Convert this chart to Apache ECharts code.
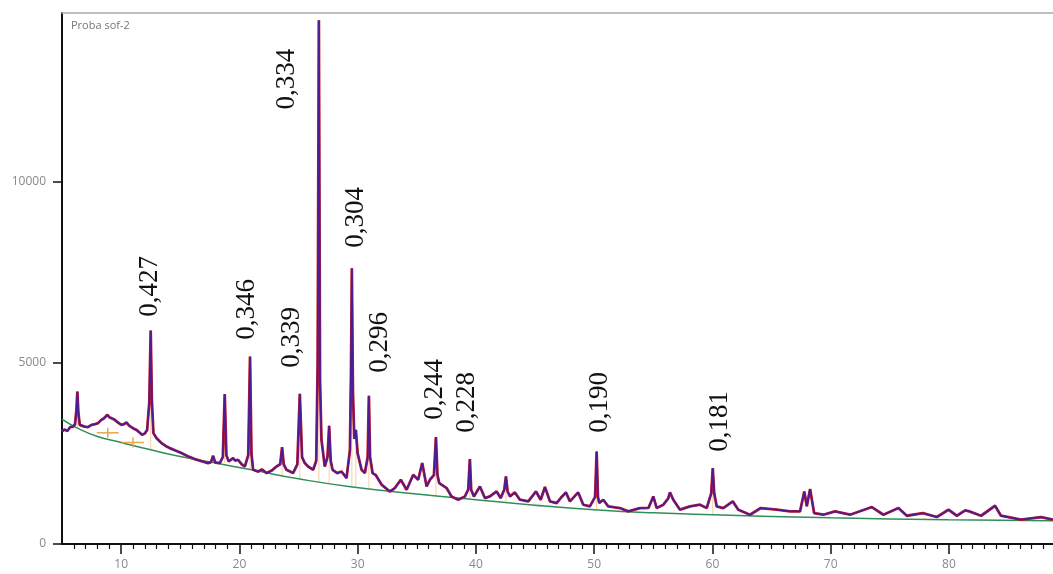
<!doctype html>
<html>
<head>
<meta charset="utf-8">
<title>Proba sof-2</title>
<style>
    html, body { margin: 0; padding: 0; background: #fff; }
    #main { width: 1053px; height: 574px; }
</style>
</head>
<body>
<div id="main"></div>
<script src="https://cdn.jsdelivr.net/npm/echarts@6/dist/echarts.min.js"></script>
<script>
// 2theta (deg) / intensity
var observed = [
    [5.0, 3105], [5.2, 3160], [5.45, 3120], [5.7, 3230], [5.93, 3243], [6.1, 3300], [6.22, 3700], [6.3, 4209],
    [6.38, 3650], [6.5, 3290], [6.64, 3263], [6.9, 3240], [7.2, 3227], [7.5, 3290], [7.8, 3310], [8.05, 3337],
    [8.3, 3420], [8.55, 3470], [8.84, 3566], [9.0, 3500], [9.2, 3470], [9.46, 3428], [9.7, 3360], [10.03, 3290],
    [10.25, 3310], [10.45, 3354], [10.7, 3260], [11.0, 3199], [11.3, 3150], [11.55, 3080], [11.77, 3014],
    [12.0, 3050], [12.2, 3150], [12.38, 3900], [12.5, 5891], [12.6, 3950], [12.73, 3061], [13.0, 2920],
    [13.41, 2786], [13.8, 2700], [14.11, 2648], [14.6, 2580], [15.1, 2510], [15.6, 2430], [16.23, 2344],
    [16.8, 2290], [17.35, 2234], [17.6, 2260], [17.78, 2435], [17.95, 2250], [18.34, 2234], [18.6, 2400],
    [18.76, 4137], [18.9, 2450], [19.1, 2278], [19.3, 2330], [19.47, 2372], [19.65, 2300], [19.89, 2325],
    [20.2, 2200], [20.46, 2140], [20.75, 2450], [20.9, 5174], [21.02, 2500], [21.16, 2049], [21.6, 2000],
    [21.9, 2060], [22.3, 1958], [22.7, 2020], [23.14, 2140], [23.45, 2200], [23.61, 2675], [23.75, 2200],
    [23.98, 2049], [24.54, 1958], [24.9, 2200], [25.11, 4145], [25.3, 2400], [25.53, 2234], [25.81, 2140],
    [26.24, 2049], [26.5, 2300], [26.62, 5000], [26.72, 14460], [26.82, 4500], [26.94, 2877], [27.22, 2140],
    [27.45, 2400], [27.59, 3263], [27.72, 2300], [27.88, 2049], [28.27, 1958], [28.64, 2002], [29.06, 1820],
    [29.35, 2600], [29.44, 4800], [29.51, 7612], [29.6, 4200], [29.72, 2900], [29.85, 3152], [30.0, 2500],
    [30.33, 2049], [30.61, 1958], [30.85, 2400], [30.95, 4090], [31.05, 2400], [31.26, 1958], [31.54, 1900],
    [32.02, 1640], [32.72, 1450], [33.15, 1545], [33.65, 1773], [34.14, 1498], [34.7, 1911], [35.12, 1773],
    [35.46, 2234], [35.83, 1589], [36.11, 1773], [36.45, 1900], [36.62, 2951], [36.75, 1900], [36.9, 1682],
    [37.52, 1545], [37.94, 1313], [38.5, 1222], [39.07, 1313], [39.35, 1500], [39.49, 2344], [39.6, 1500],
    [39.83, 1313], [40.34, 1589], [40.76, 1268], [41.18, 1313], [41.75, 1451], [42.09, 1268], [42.4, 1500],
    [42.54, 1865], [42.68, 1450], [42.88, 1313], [43.3, 1424], [43.72, 1222], [44.43, 1176], [45.08, 1451],
    [45.48, 1222], [45.84, 1572], [46.26, 1176], [46.83, 1131], [47.25, 1300], [47.61, 1424], [47.95, 1176],
    [48.65, 1424], [49.08, 1084], [49.64, 1040], [50.08, 1300], [50.21, 2554], [50.32, 1300], [50.43, 1131],
    [50.77, 1222], [51.19, 1040], [52.18, 993], [52.88, 901], [53.87, 993], [54.6, 1000], [55.0, 1313],
    [55.29, 993], [55.85, 1084], [56.25, 1250], [56.41, 1424], [56.69, 1222], [57.26, 947], [58.1, 1040],
    [58.95, 1084], [59.52, 993], [59.9, 1400], [60.03, 2096], [60.15, 1400], [60.36, 1040], [60.92, 993],
    [61.72, 1176], [62.19, 947], [63.18, 808], [64.09, 993], [65.44, 947], [66.57, 901], [67.41, 901],
    [67.77, 1451], [67.98, 1040], [68.26, 1517], [68.6, 855], [69.38, 808], [70.37, 900], [71.64, 808],
    [73.48, 1020], [74.46, 808], [75.73, 993], [76.44, 780], [77.79, 855], [78.98, 745], [79.96, 947],
    [80.67, 780], [81.37, 927], [81.73, 901], [82.72, 780], [83.9, 1056], [84.4, 780], [86.1, 670],
    [87.8, 745], [88.8, 670]
];

var background = [
    [5.0, 3450], [6.3, 3200], [8, 2968], [10, 2802], [12.5, 2601], [15, 2416], [18, 2234], [21, 2049],
    [25, 1800], [29.4, 1580], [35, 1380], [40, 1222], [45, 1070], [50, 946], [55, 860], [60, 808],
    [70, 725], [80, 670], [88.8, 643]
];

// peak components: 2theta, foot, top
var peakSticks = [
    [6.3, 3200, 4000], [12.5, 2600, 5600], [18.76, 2230, 3900], [20.9, 2050, 4900], [23.61, 1900, 2500],
    [25.11, 1800, 3900], [26.72, 1720, 13800], [27.59, 1690, 3100], [29.51, 1580, 7300], [29.85, 1570, 3000],
    [30.95, 1530, 3900], [36.62, 1340, 2800], [39.49, 1250, 2200], [42.54, 1150, 1750], [50.21, 946, 2400],
    [60.03, 808, 1950]
];

// amorphous humps
var humpMarks = [[8.87, 3070], [11.0, 2802]];

// d-spacing annotations (nm)
var labelText = ['0,427', '0,346', '0,339', '0,334', '0,304', '0,296', '0,244', '0,228', '0,190', '0,181'];
var labelAngle = [12.44, 20.64, 24.44, 24.02, 29.85, 31.88, 36.53, 39.23, 50.48, 60.62];
var labelLevel = [6273, 5639, 4866, 11995, 8178, 4728, 3431, 3072, 3072, 2547];

var xTickLabels = [10, 20, 30, 40, 50, 60, 70, 80];
var yTickLabels = [0, 5000, 10000];

var minorTicks = [];
for (var t = 6; t <= 88; t++) {
    if (t % 10) minorTicks.push(t);
}

var chart = echarts.init(document.getElementById('main'));

chart.setOption({
    animation: false,
    title: {
        text: 'Proba sof-2',
        left: 66,
        top: 15,
        textStyle: { fontSize: 11, color: '#777', fontWeight: 'normal', fontFamily: 'Open Sans' }
    },
    grid: { left: 62, right: 0, top: 13, bottom: 30 },
    xAxis: [
        {
            type: 'value', min: 5, max: 88.8, position: 'bottom',
            axisLine: { lineStyle: { color: '#111', width: 2 } },
            axisTick: { customValues: xTickLabels, length: 10, lineStyle: { color: '#111', width: 1.5 } },
            axisLabel: { customValues: xTickLabels, color: '#888', fontSize: 12, margin: 15, fontFamily: 'Open Sans' },
            splitLine: { show: false }
        },
        {
            type: 'value', min: 5, max: 88.8, position: 'bottom',
            axisLine: { show: false },
            axisTick: { customValues: minorTicks, length: 5, lineStyle: { color: '#111', width: 1.2 } },
            axisLabel: { show: false },
            splitLine: { show: false }
        },
        {
            type: 'value', min: 5, max: 88.8, position: 'top',
            axisLine: { lineStyle: { color: '#aaa', width: 1.5 } },
            axisTick: { show: false },
            axisLabel: { show: false },
            splitLine: { show: false }
        }
    ],
    yAxis: {
        type: 'value', min: 0, max: 14660,
        axisLine: { show: true, lineStyle: { color: '#111', width: 2 } },
        axisTick: { show: true, customValues: yTickLabels, length: 9, lineStyle: { color: '#111', width: 1.5 } },
        axisLabel: {
            customValues: yTickLabels, color: '#888', fontSize: 12, margin: 16, fontFamily: 'Open Sans',
            formatter: function (v) { return String(v); }
        },
        splitLine: { show: false }
    },
    series: [
        {
            type: 'custom',
            name: 'components',
            silent: true,
            encode: { x: 0, y: [1, 2] },
            data: peakSticks,
            z: 1,
            renderItem: function (params, api) {
                var p0 = api.coord([api.value(0), api.value(1)]);
                var p1 = api.coord([api.value(0), api.value(2)]);
                return {
                    type: 'line',
                    shape: { x1: p0[0], y1: p0[1], x2: p1[0], y2: p1[1] },
                    style: { stroke: '#eeb060', lineWidth: 1, opacity: 0.6 }
                };
            }
        },
        {
            type: 'line',
            name: 'background',
            data: background,
            smooth: true,
            showSymbol: false,
            z: 2,
            lineStyle: { color: '#2f8f5b', width: 1.5 }
        },
        {
            type: 'custom',
            name: 'humps',
            silent: true,
            data: humpMarks,
            z: 3,
            renderItem: function (params, api) {
                var p = api.coord([api.value(0), api.value(1)]);
                return {
                    type: 'group',
                    children: [
                        { type: 'line', shape: { x1: p[0] - 11, y1: p[1], x2: p[0] + 11, y2: p[1] },
                          style: { stroke: '#e9a64c', lineWidth: 1.5 } },
                        { type: 'line', shape: { x1: p[0], y1: p[1] - 5, x2: p[0], y2: p[1] + 5 },
                          style: { stroke: '#e9a64c', lineWidth: 1.5 } }
                    ]
                };
            }
        },
        {
            type: 'line',
            name: 'observed',
            data: observed,
            showSymbol: false,
            z: 4,
            lineStyle: { color: '#d01820', width: 2.8 }
        },
        {
            type: 'line',
            name: 'calculated',
            data: observed,
            showSymbol: false,
            z: 5,
            lineStyle: { color: 'rgba(50, 30, 170, 0.85)', width: 1.8 }
        },
        {
            type: 'custom',
            name: 'd-spacing',
            silent: true,
            clip: false,
            data: labelAngle.map(function (a, i) { return [a, labelLevel[i]]; }),
            z: 6,
            renderItem: function (params, api) {
                var p = api.coord([api.value(0), api.value(1)]);
                return {
                    type: 'text',
                    x: p[0],
                    y: p[1],
                    rotation: Math.PI / 2,
                    style: {
                        text: labelText[params.dataIndex],
                        font: '27px "Liberation Serif"',
                        fill: '#111',
                        align: 'left',
                        verticalAlign: 'middle',
                        textAlign: 'left',
                        textVerticalAlign: 'middle'
                    }
                };
            }
        }
    ]
});

window.addEventListener('resize', function () {
    chart.resize();
});
</script>
</body>
</html>
